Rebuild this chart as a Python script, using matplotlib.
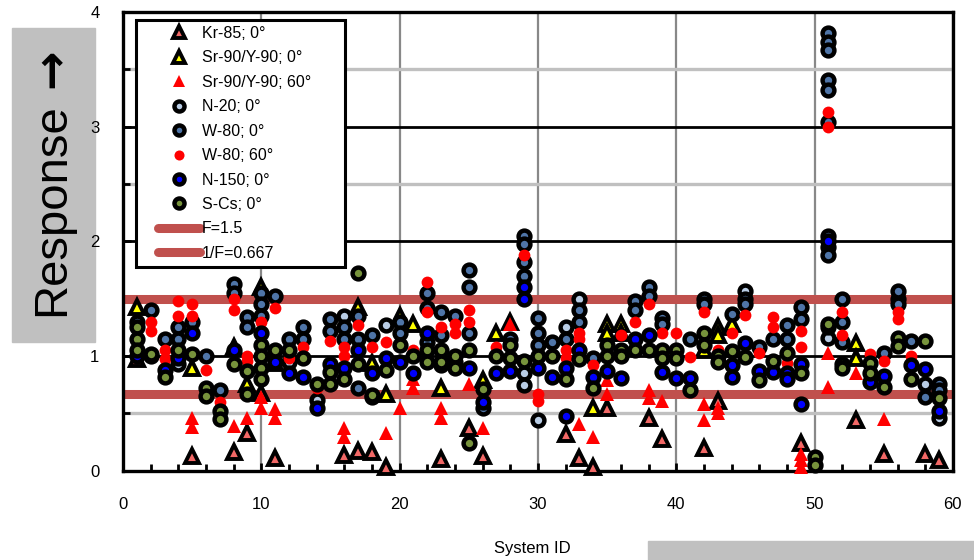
import matplotlib.pyplot as plt
from matplotlib.patches import Rectangle

plt.rcParams['font.family'] = ['Liberation Sans', 'DejaVu Sans']

# system ID / response pairs, one pair of lists per source
kr85_x = [1, 5, 8, 9, 10, 11, 16, 17, 18, 19, 23, 25, 26, 32, 33, 34, 35, 38, 39, 42, 43, 49, 53, 55, 58, 59]
kr85_y = [0.97, 0.13, 0.16, 0.33, 0.68, 0.11, 0.14, 0.17, 0.16, 0.03, 0.10, 0.37, 0.13, 0.32, 0.11, 0.03,
          0.55, 0.46, 0.28, 0.20, 0.61, 0.24, 0.44, 0.15, 0.15, 0.09]

sr90_0_x = [1, 5, 8, 9, 10, 11, 17, 18, 19, 20, 21, 23, 26, 27, 28, 34, 35, 35, 36, 36, 42, 43, 43, 44, 53, 53]
sr90_0_y = [1.43, 0.90, 1.08, 0.76, 1.60, 0.94, 1.43, 0.94, 0.67, 1.35, 1.28, 0.72, 0.79, 1.20, 1.30, 0.55,
            1.28, 1.20, 1.28, 1.20, 1.05, 1.25, 1.18, 1.28, 1.11, 0.98]

sr90_60_x = [5, 5, 8, 9, 10, 10, 11, 11, 16, 16, 19, 20, 21, 21, 23, 23, 25, 26, 28, 33, 34, 35, 35,
             38, 38, 39, 42, 42, 43, 43, 49, 49, 49, 51, 51, 53, 55]
sr90_60_y = [0.46, 0.38, 0.39, 0.46, 0.55, 0.64, 0.54, 0.46, 0.37, 0.29, 0.33, 0.55, 0.72, 0.80, 0.55, 0.46,
             0.76, 0.37, 1.28, 0.41, 0.29, 0.79, 0.67, 0.70, 0.63, 0.61, 0.58, 0.44, 0.55, 0.50, 0.15, 0.09,
             0.03, 1.03, 0.73, 0.85, 0.45]

n20_x = [4, 12, 14, 16, 18, 19, 29, 29, 30, 32, 33, 45, 51, 56, 58, 59]
n20_y = [0.93, 0.95, 0.62, 1.35, 0.64, 1.27, 0.85, 0.75, 0.44, 1.25, 1.50, 1.57, 1.16, 1.50, 0.76, 0.46]

w80_0_x = [1, 2, 3, 4, 4, 5, 6, 7, 8, 8, 9, 9, 10, 10, 10, 11, 12, 13, 13, 15, 15, 16, 16, 17, 17, 17,
           18, 20, 20, 22, 22, 22, 23, 23, 24, 25, 25, 25, 26, 28, 29, 29, 29, 29, 30, 30, 30, 31, 32,
           33, 33, 34, 37, 37, 38, 38, 39, 39, 41, 42, 42, 44, 45, 45, 46, 47, 48, 48, 49, 49,
           51, 51, 51, 51, 51, 51, 51, 51, 51, 51, 52, 52, 52, 55, 56, 56, 57, 58, 59, 59]
w80_0_y = [1.30, 1.40, 1.15, 1.25, 1.15, 1.30, 1.00, 0.70, 1.63, 1.55, 1.34, 1.25, 1.55, 1.45, 1.35, 1.52,
           1.15, 1.25, 1.15, 1.32, 1.22, 1.25, 1.15, 1.35, 1.15, 0.72, 1.18, 1.30, 1.20, 1.55, 1.42, 1.12,
           1.38, 1.18, 1.35, 1.75, 1.60, 1.20, 0.55, 1.15, 2.05, 1.98, 1.82, 1.70, 1.33, 1.20, 1.10, 1.12,
           1.15, 1.40, 1.30, 0.98, 1.48, 1.40, 1.60, 1.52, 1.33, 1.28, 1.15, 1.50, 1.45, 1.37, 1.50, 1.45,
           1.08, 1.15, 1.27, 1.15, 1.43, 1.32,
           3.82, 3.74, 3.67, 3.41, 3.32, 3.04, 2.05, 1.95, 1.88, 1.25, 1.50, 1.30, 1.12, 1.03, 1.57, 1.45,
           1.13, 0.64, 0.76, 0.70]

w80_60_x = [2, 2, 3, 3, 4, 4, 5, 5, 6, 7, 7, 8, 8, 9, 9, 10, 11, 12, 13, 14, 15, 16, 16, 17, 18, 19,
            21, 22, 22, 23, 24, 24, 25, 25, 27, 29, 30, 30, 32, 32, 33, 33, 34, 36, 37, 38, 39, 40,
            41, 42, 43, 44, 45, 46, 47, 47, 48, 49, 49, 51, 51, 52, 52, 54, 55, 56, 56, 57]
w80_60_y = [1.30, 1.22, 1.05, 0.97, 1.48, 1.35, 1.45, 1.35, 0.88, 0.60, 0.55, 1.50, 1.40, 1.00, 0.96, 1.30,
            1.42, 0.98, 1.08, 0.72, 1.13, 1.08, 1.00, 1.27, 1.08, 1.12, 1.05, 1.65, 1.38, 1.25, 1.28, 1.20,
            1.40, 1.30, 1.08, 1.88, 0.67, 0.61, 1.05, 0.98, 1.20, 1.15, 0.92, 1.18, 1.30, 1.45, 1.20, 1.20,
            0.99, 1.38, 1.05, 1.20, 1.36, 1.03, 1.34, 1.25, 0.94, 1.22, 1.08, 3.13, 3.00, 1.38, 1.18, 1.02,
            0.96, 1.38, 1.32, 1.00]

n150_x = [1, 2, 3, 4, 5, 8, 10, 11, 12, 13, 14, 15, 16, 17, 18, 19, 20, 21, 22, 23, 24, 25, 26, 27, 28,
          29, 29, 30, 31, 32, 32, 33, 34, 35, 36, 37, 38, 39, 40, 41, 44, 44, 45, 46, 47, 48, 48, 49, 49,
          51, 54, 55, 57, 58, 59]
n150_y = [1.00, 1.00, 0.88, 0.98, 1.20, 1.05, 1.20, 0.95, 0.85, 0.82, 0.55, 0.93, 0.90, 1.05, 0.85, 0.98,
          0.95, 0.85, 1.20, 0.92, 0.95, 0.90, 0.60, 0.85, 0.87, 1.60, 1.50, 0.90, 0.82, 0.90, 0.48, 1.05,
          0.82, 0.87, 0.81, 1.15, 1.18, 0.86, 0.81, 0.81, 0.92, 0.82, 1.11, 0.87, 0.86, 0.85, 0.80, 0.93,
          0.58, 2.00, 0.77, 0.83, 0.92, 0.89, 0.52]

scs_x = [1, 1, 1, 2, 3, 4, 5, 6, 6, 7, 7, 8, 9, 9, 10, 10, 10, 10, 11, 12, 13, 14, 15, 15, 16, 17, 17,
         18, 19, 20, 21, 22, 22, 23, 23, 24, 24, 25, 25, 26, 27, 28, 28, 29, 30, 31, 32, 33, 34, 35, 35,
         36, 36, 37, 38, 39, 39, 40, 40, 41, 42, 42, 43, 43, 44, 45, 46, 47, 48, 49, 50, 50, 51, 52, 52,
         54, 54, 55, 56, 56, 57, 58, 59]
scs_y = [1.25, 1.15, 1.05, 1.02, 0.82, 1.05, 1.02, 0.72, 0.65, 0.52, 0.45, 0.93, 0.87, 0.67, 1.10, 1.00,
         0.90, 0.80, 1.05, 1.05, 0.98, 0.76, 0.86, 0.76, 0.80, 1.72, 0.93, 0.66, 0.88, 1.10, 1.00, 1.05,
         0.95, 1.05, 0.95, 1.00, 0.90, 1.05, 0.24, 0.71, 1.00, 1.10, 0.98, 0.96, 1.00, 1.00, 0.80, 0.97,
         0.72, 1.10, 1.00, 1.05, 1.00, 1.05, 1.05, 1.05, 0.98, 1.05, 0.98, 0.70, 1.20, 1.10, 1.00, 0.95,
         1.04, 0.99, 0.79, 0.96, 1.03, 0.85, 0.12, 0.05, 1.28, 0.93, 0.90, 0.94, 0.85, 0.73, 1.16, 1.09,
         0.80, 1.13, 0.63]

f_factor = 1.5
f_inverse = 0.667


def main():
    fig = plt.figure(figsize=(9.74, 5.6), dpi=100)
    ax = fig.add_axes([0.1263, 0.1594, 0.852, 0.8192])

    edge = dict(linestyle='none', markeredgecolor='black', clip_on=False, zorder=3)
    ax.plot(kr85_x, kr85_y, marker='^', ms=10.5, mew=2.8, mfc='#F26866', label='Kr-85; 0°', **edge)
    ax.plot(sr90_0_x, sr90_0_y, marker='^', ms=10.5, mew=2.8, mfc='#FFFF00', label='Sr-90/Y-90; 0°', **edge)
    ax.plot(sr90_60_x, sr90_60_y, linestyle='none', marker='^', ms=9.5, mew=0, color='#FF0000',
            label='Sr-90/Y-90; 60°', zorder=3, clip_on=False)
    ax.plot(n20_x, n20_y, marker='o', ms=8.5, mew=3.2, mfc='#B9CDE5', label='N-20; 0°', **edge)
    ax.plot(w80_0_x, w80_0_y, marker='o', ms=8.5, mew=3.2, mfc='#4F75A8', label='W-80; 0°', **edge)
    ax.plot(w80_60_x, w80_60_y, linestyle='none', marker='o', ms=8.5, mew=0, color='#FF0000',
            label='W-80; 60°', zorder=3, clip_on=False)
    ax.plot(n150_x, n150_y, marker='o', ms=8.5, mew=3.2, mfc='#0000FF', label='N-150; 0°', **edge)
    ax.plot(scs_x, scs_y, marker='o', ms=8.5, mew=3.2, mfc='#77933C', label='S-Cs; 0°', **edge)

    ax.axhline(f_factor, color='#C0504D', lw=6.5, zorder=2, label='F=1.5', solid_capstyle='round')
    ax.axhline(f_inverse, color='#C0504D', lw=6.5, zorder=2, label='1/F=0.667', solid_capstyle='round')

    ax.set_xlim(0, 60)
    ax.set_ylim(0, 4)
    ax.set_xticks(range(0, 61, 10))
    ax.set_xticks(range(0, 61, 2), minor=True)
    ax.set_yticks(range(0, 5))
    ax.set_yticks([0.5, 1.5, 2.5, 3.5], minor=True)

    ax.set_axisbelow(True)
    ax.yaxis.grid(True, which='major', color='black', lw=2)
    ax.yaxis.grid(True, which='minor', color='#C0C0C0', lw=2.4)
    ax.xaxis.grid(True, which='major', color='#888888', lw=1.6)

    for s in ax.spines.values():
        s.set_linewidth(2.4)
    ax.tick_params(which='both', direction='in', width=2, labelsize=12)
    ax.tick_params(axis='x', pad=19)
    ax.tick_params(axis='y', pad=17)
    ax.tick_params(which='major', length=6)
    ax.tick_params(which='minor', length=5)

    # legend: white box drawn by hand, entries laid over it
    fig.add_artist(Rectangle((136 / 974, 1 - 267 / 560), 209 / 974, 247 / 560, transform=fig.transFigure,
                             facecolor='white', edgecolor='black', lw=2.2, zorder=4))
    handles, labels = ax.get_legend_handles_labels()
    fig.legend(handles, labels, loc='upper left', bbox_to_anchor=(158 / 974, 1 - 26 / 560),
               frameon=False, fontsize=11.5, labelspacing=0.59, handlelength=2.6, handletextpad=0.15,
               borderpad=0, borderaxespad=0, markerscale=0.85)

    # grey label boxes
    fig.add_artist(Rectangle((12 / 974, 1 - 342 / 560), 83 / 974, 314 / 560,
                             transform=fig.transFigure, color='#C0C0C0', zorder=0))
    fig.add_artist(Rectangle((648 / 974, 0), 326 / 974, 19 / 560,
                             transform=fig.transFigure, color='#C0C0C0', zorder=0))
    fig.text(0.054, 0.625, 'Response', rotation=90, ha='center', va='center', fontsize=34)
    fig.text(0.054, 0.878, '→', rotation=90, ha='center', va='center', fontsize=34,
             family='DejaVu Sans', fontweight='bold')
    fig.text(0.547, 0.0214, 'System ID', ha='center', va='center', fontsize=12)

    fig.savefig('out.png', dpi=100)


if __name__ == '__main__':
    main()
